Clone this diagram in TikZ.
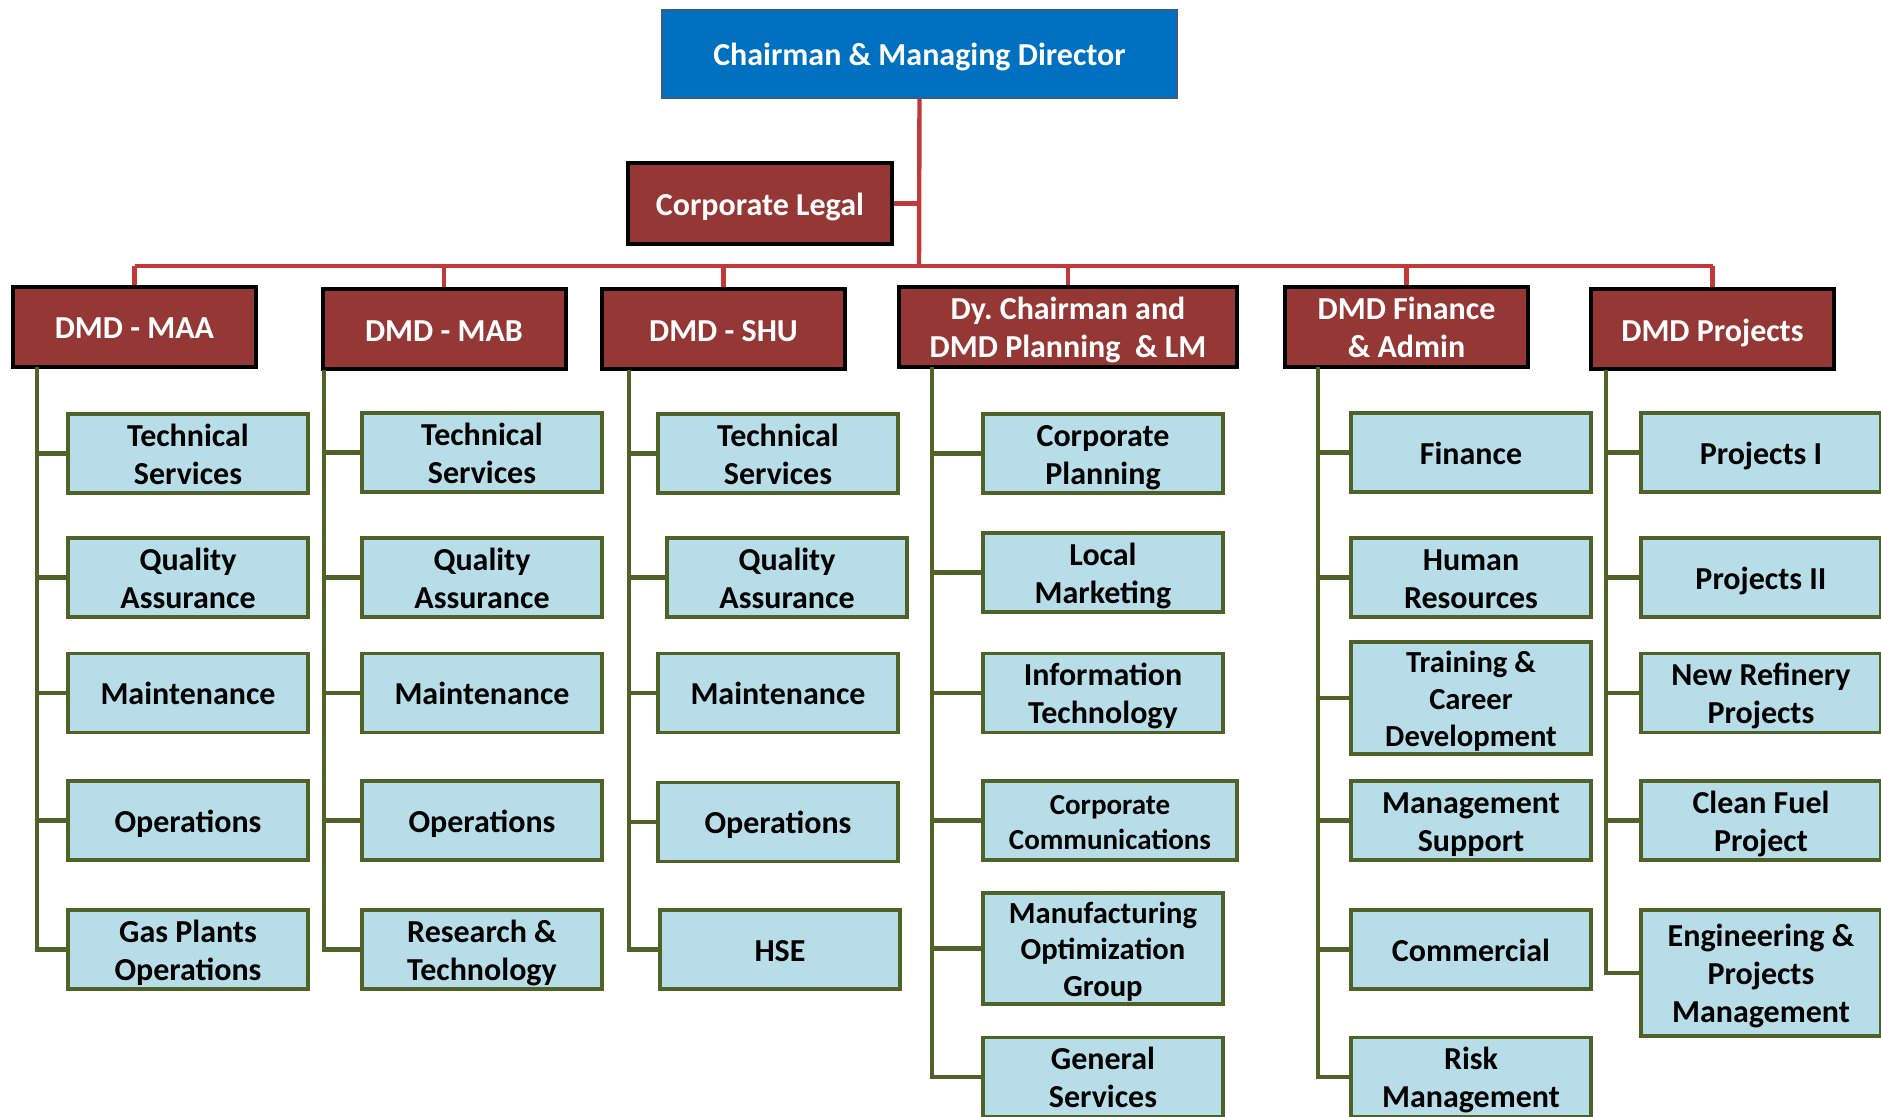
\documentclass[tikz,border=0pt]{standalone}
\usepackage{fontspec}
\setmainfont{Carlito}
\definecolor{cmdblue}{HTML}{0070C0}
\definecolor{cmdedge}{HTML}{385D8A}
\definecolor{dmdred}{HTML}{953735}
\definecolor{lblue}{HTML}{B7DEE8}
\definecolor{gedge}{HTML}{4F6228}
\definecolor{rline}{RGB}{195,57,58}
\newcommand{\tx}[1]{\raisebox{-2pt}[\height][\depth]{\begin{tabular}{@{}c@{}}#1\end{tabular}}}
\tikzset{
  base/.style={rectangle, inner sep=0pt, align=center},
  topbox/.style={base, fill=cmdblue, draw=cmdedge, line width=1.2pt, text=white,
    font=\bfseries\fontsize{16}{19}\selectfont},
  dmdbox/.style={base, fill=dmdred, draw=black, line width=2pt, text=white,
    font=\bfseries\fontsize{16}{19}\selectfont, minimum width=121.5pt, minimum height=40pt},
  unitbox/.style={base, fill=lblue, draw=gedge, line width=1.75pt, text=black,
    font=\bfseries\fontsize{16}{19}\selectfont, minimum width=120pt, minimum height=39.5pt},
  redline/.style={draw=rline, line width=2.2pt},
  greenline/.style={draw=gedge, line width=2.2pt}
}
\begin{document}
\begin{tikzpicture}[x=0.5pt,y=-0.5pt]
\useasboundingbox (0,0) rectangle (1881,1117);
\clip (0,0) rectangle (1881,1117);
% top level
\node[topbox, minimum width=257.5pt, minimum height=44pt] (cmd) at (919.5,54) {\tx{Chairman \& Managing Director}};
\node[dmdbox, minimum width=132pt, minimum height=40.5pt] (legal) at (760,203.5) {\tx{Corporate Legal}};
\coordinate (bus) at (919,266);
% DMD boxes
\node[dmdbox] (maa) at (134.5,327) {\tx{DMD - MAA}};
\node[dmdbox] (mab) at (444,329.5) {\tx{DMD - MAB}};
\node[dmdbox] (shu) at (723.5,329.5) {\tx{DMD - SHU}};
\node[dmdbox, minimum width=169pt] (dyc) at (1068,327) {\tx{Dy.\ Chairman and\\DMD Planning ~\& LM}};
\node[dmdbox] (fin) at (1406.5,327) {\tx{DMD Finance\\\& Admin}};
\node[dmdbox] (proj) at (1712.5,329.5) {\tx{DMD Projects}};
% column 1
\node[unitbox] (a1) at (188,453.5) {\tx{Technical\\Services}};
\node[unitbox] (a2) at (188,577.5) {\tx{Quality\\Assurance}};
\node[unitbox] (a3) at (188,693) {\tx{Maintenance}};
\node[unitbox] (a4) at (188,820.5) {\tx{Operations}};
\node[unitbox] (a5) at (188,949.5) {\tx{Gas Plants\\Operations}};
% column 2
\node[unitbox] (b1) at (482,452.5) {\tx{Technical\\Services}};
\node[unitbox] (b2) at (482,577.5) {\tx{Quality\\Assurance}};
\node[unitbox] (b3) at (482,693) {\tx{Maintenance}};
\node[unitbox] (b4) at (482,820.5) {\tx{Operations}};
\node[unitbox] (b5) at (482,949.5) {\tx{Research \&\\Technology}};
% column 3
\node[unitbox] (c1) at (778,453.5) {\tx{Technical\\Services}};
\node[unitbox] (c2) at (787,577.5) {\tx{Quality\\Assurance}};
\node[unitbox] (c3) at (778,693) {\tx{Maintenance}};
\node[unitbox] (c4) at (778,822) {\tx{Operations}};
\node[unitbox] (c5) at (780,949.5) {\tx{HSE}};
% column 4
\node[unitbox] (d1) at (1103,453.5) {\tx{Corporate\\Planning}};
\node[unitbox] (d2) at (1103,572.5) {\tx{Local\\Marketing}};
\node[unitbox] (d3) at (1103,693) {\tx{Information\\Technology}};
\node[unitbox, minimum width=127pt, font=\bfseries\fontsize{14.5}{17.5}\selectfont] (d4) at (1110,820.5) {\tx{Corporate\\Communications}};
\node[unitbox, minimum height=55.5pt, font=\bfseries\fontsize{15.3}{18.3}\selectfont] (d5) at (1103,948.5) {\tx{Manufacturing\\Optimization\\Group}};
\node[unitbox] (d6) at (1103,1077) {\tx{General\\Services}};
% column 5
\node[unitbox] (e1) at (1471,452.5) {\tx{Finance}};
\node[unitbox] (e2) at (1471,577.5) {\tx{Human\\Resources}};
\node[unitbox, minimum height=56pt, font=\bfseries\fontsize{15.3}{18.5}\selectfont] (e3) at (1471,698) {\tx{Training \&\\Career\\Development}};
\node[unitbox] (e4) at (1471,820.5) {\tx{Management\\Support}};
\node[unitbox] (e5) at (1471,949.5) {\tx{Commercial}};
\node[unitbox] (e6) at (1471,1077) {\tx{Risk\\Management}};
% column 6
\node[unitbox] (f1) at (1761,452.5) {\tx{Projects I}};
\node[unitbox] (f2) at (1761,577.5) {\tx{Projects II}};
\node[unitbox] (f3) at (1761,693) {\tx{New Refinery\\Projects}};
\node[unitbox] (f4) at (1761,820.5) {\tx{Clean Fuel\\Project}};
\node[unitbox, minimum height=63pt] (f5) at (1761,973) {\tx{Engineering \&\\Projects\\Management}};
% red connectors
\draw[redline] (cmd.south) -- (bus);
\draw[redline] (legal.east) -- (legal.east -| cmd.south);
\draw[redline] (maa.north |- bus) -- (proj.north |- bus);
\foreach \n in {maa,mab,shu,dyc,fin,proj} {
  \draw[redline] (\n.north |- bus) -- (\n.north);
}
% trunk tops
\coordinate (ta) at (37,367);
\coordinate (tb) at (324,370);
\coordinate (tc) at (629,370);
\coordinate (td) at (932,367);
\coordinate (te) at (1318,367);
\coordinate (tf) at (1606,370);
% green connectors
\draw[greenline] (ta) |- (a5.west);
\foreach \n in {a1,a2,a3,a4} { \draw[greenline] (ta |- \n.west) -- (\n.west); }
\draw[greenline] (tb) |- (b5.west);
\foreach \n in {b1,b2,b3,b4} { \draw[greenline] (tb |- \n.west) -- (\n.west); }
\draw[greenline] (tc) |- (c5.west);
\foreach \n in {c1,c2,c3,c4} { \draw[greenline] (tc |- \n.west) -- (\n.west); }
\draw[greenline] (td) |- (d6.west);
\foreach \n in {d1,d2,d3,d4,d5} { \draw[greenline] (td |- \n.west) -- (\n.west); }
\draw[greenline] (te) |- (e6.west);
\foreach \n in {e1,e2,e3,e4,e5} { \draw[greenline] (te |- \n.west) -- (\n.west); }
\draw[greenline] (tf) |- (f5.west);
\foreach \n in {f1,f2,f3,f4} { \draw[greenline] (tf |- \n.west) -- (\n.west); }
\end{tikzpicture}
\end{document}
